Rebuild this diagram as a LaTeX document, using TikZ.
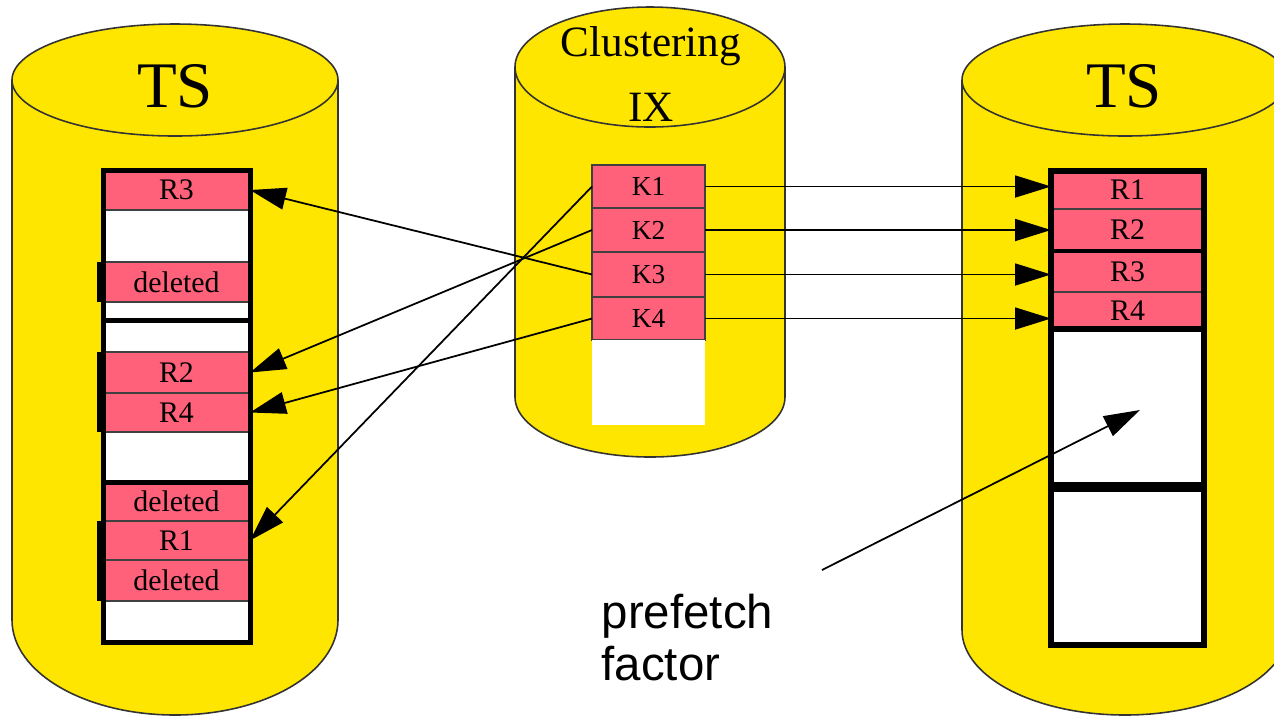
\documentclass[tikz,border=0pt]{standalone}
\usepackage{fontspec}
\setmainfont{Liberation Serif}
\newfontfamily\notesans{Liberation Sans}
\usetikzlibrary{arrows.meta, positioning, calc}
\definecolor{tsyellow}{RGB}{255,230,0}
\definecolor{recpink}{RGB}{255,96,122}

\begin{document}
\begin{tikzpicture}[
    x=0.1mm, y=0.1mm,
    node distance=0pt,
    drum/.style={fill=tsyellow, draw=black!80, line width=0.45pt},
    rec/.style={
        rectangle, fill=recpink, draw=black!75, line width=0.15mm,
        inner sep=0pt, outer sep=0pt, minimum width=14.7mm,
        font=\fontsize{8.5}{10}\selectfont
    },
    emptyrec/.style={rec, fill=white},
    keyrec/.style={rec, minimum width=11.3mm, font=\fontsize{7.8}{9}\selectfont},
    rrec/.style={rec, minimum width=15.3mm},
    pageframe/.style={draw=black, line width=0.5mm},
    rpageframe/.style={draw=black, line width=0.6mm},
    lbar/.style={draw=black, line width=0.8mm},
    arrow/.style={-{Triangle[length=3.6mm, width=2.2mm]}, line width=0.5pt, draw=black},
    dbname/.style={font=\fontsize{18.5}{22}\selectfont, inner sep=0pt},
    ixname/.style={font=\fontsize{12.3}{18.5}\selectfont, align=center, inner sep=0pt},
    pfnote/.style={font=\notesans\fontsize{13.5}{14.8}\selectfont, align=left, inner sep=0pt}
]
\useasboundingbox (0,0) rectangle (1274,-717);
\clip (0,0) rectangle (1274,-717);

% Cylinders
\path[drum] (12,-80) -- (12,-620) arc[start angle=180, end angle=360, x radius=163, y radius=95]
    -- (338,-80) arc[start angle=0, end angle=180, x radius=163, y radius=56] -- cycle;
\draw[drum, fill=none] (12,-80) arc[start angle=180, end angle=360, x radius=163, y radius=56];

\path[drum] (515,-67) -- (515,-397) arc[start angle=180, end angle=360, x radius=135, y radius=60]
    -- (785,-67) arc[start angle=0, end angle=180, x radius=135, y radius=60] -- cycle;
\draw[drum, fill=none] (515,-67) arc[start angle=180, end angle=360, x radius=135, y radius=60];

\path[drum] (962,-80) -- (962,-630) arc[start angle=180, end angle=360, x radius=163, y radius=85]
    -- (1288,-80) arc[start angle=0, end angle=180, x radius=163, y radius=56] -- cycle;
\draw[drum, fill=none] (962,-80) arc[start angle=180, end angle=360, x radius=163, y radius=56];

\node[dbname] (ts_left) at (175,-86) {TS};
\node[dbname] (ts_right) at (1124,-86) {TS};
\node[ixname] (ix_name) at (651,-74) {Clustering\\IX};

% Left table space (unclustered)
\node[rec, minimum height=4mm] (l_r3) at (176.5,-190) {R3};
\node[emptyrec, minimum height=5.2mm, below=of l_r3] (l_e1) {};
\node[rec, minimum height=4mm, below=of l_e1] (l_del1) {deleted};
\node[emptyrec, minimum height=1.8mm, below=of l_del1] (l_e2) {};
\node[emptyrec, minimum height=3.2mm, below=of l_e2] (l_e3) {};
\node[rec, minimum height=4.1mm, below=of l_e3] (l_r2) {R2};
\node[rec, minimum height=3.9mm, below=of l_r2] (l_r4) {R4};
\node[emptyrec, minimum height=5mm, below=of l_r4] (l_e4) {};
\node[rec, minimum height=3.9mm, below=of l_e4] (l_del2) {deleted};
\node[rec, minimum height=3.9mm, below=of l_del2] (l_r1) {R1};
\node[rec, minimum height=4.1mm, below=of l_r1] (l_del3) {deleted};
\node[emptyrec, minimum height=4.1mm, below=of l_del3] (l_e5) {};

\draw[pageframe] (l_r3.north west) rectangle (l_e2.south east);
\draw[pageframe] (l_e3.north west) rectangle (l_e4.south east);
\draw[pageframe] (l_del2.north west) rectangle (l_e5.south east);
\draw[lbar] ([xshift=-0.2mm]l_del1.north west) -- ([xshift=-0.2mm]l_del1.south west);
\draw[lbar] ([xshift=-0.2mm]l_r2.north west) -- ([xshift=-0.2mm]l_r4.south west);
\draw[lbar] ([xshift=-0.2mm]l_r1.north west) -- ([xshift=-0.2mm]l_del3.south west);

% Clustering index
\node[keyrec, minimum height=4.3mm] (k1) at (648.5,-186.5) {K1};
\node[keyrec, minimum height=4.4mm, below=of k1] (k2) {K2};
\node[keyrec, minimum height=4.5mm, below=of k2] (k3) {K3};
\node[keyrec, minimum height=4.3mm, below=of k3] (k4) {K4};
\node[keyrec, fill=white, draw=none, minimum height=8.5mm, below=of k4] (k_free) {};

% Right table space (clustered)
\node[rrec, minimum height=3.8mm] (r_r1) at (1127.5,-190) {R1};
\node[rrec, minimum height=4.2mm, below=of r_r1] (r_r2) {R2};
\node[rrec, minimum height=4.1mm, below=of r_r2] (r_r3) {R3};
\node[rrec, minimum height=3.7mm, below=of r_r3] (r_r4) {R4};
\node[emptyrec, minimum width=15.3mm, minimum height=15.8mm, below=of r_r4] (r_e1) {};
\node[emptyrec, minimum width=15.3mm, minimum height=15.8mm, below=of r_e1] (r_e2) {};

\draw[rpageframe] (r_r1.north west) rectangle (r_r4.south east);
\draw[rpageframe] (r_e1.north west) rectangle (r_e2.south east);
\draw[line width=0.35mm] (r_r2.south west) -- (r_r2.south east);
\draw[line width=1mm] (r_e1.south west) -- (r_e1.south east);

% Index to rows
\foreach \k in {k1,k2,k3,k4}
    \draw[arrow] (\k.east) -- (\k.east -| r_r1.west);
\foreach \k/\r in {k3/l_r3, k1/l_r1, k2/l_r2, k4/l_r4}
    \draw[arrow] (\k.west) -- (\r.east);

% Prefetch
\node[pfnote, anchor=west] (pf_note) at (601,-638) {prefetch\\factor};
\coordinate (pf_tail) at (822,-570);
\draw[arrow] (pf_tail) -- ([xshift=1.25mm, yshift=-0.2mm]r_e1.center);

\end{tikzpicture}
\end{document}
